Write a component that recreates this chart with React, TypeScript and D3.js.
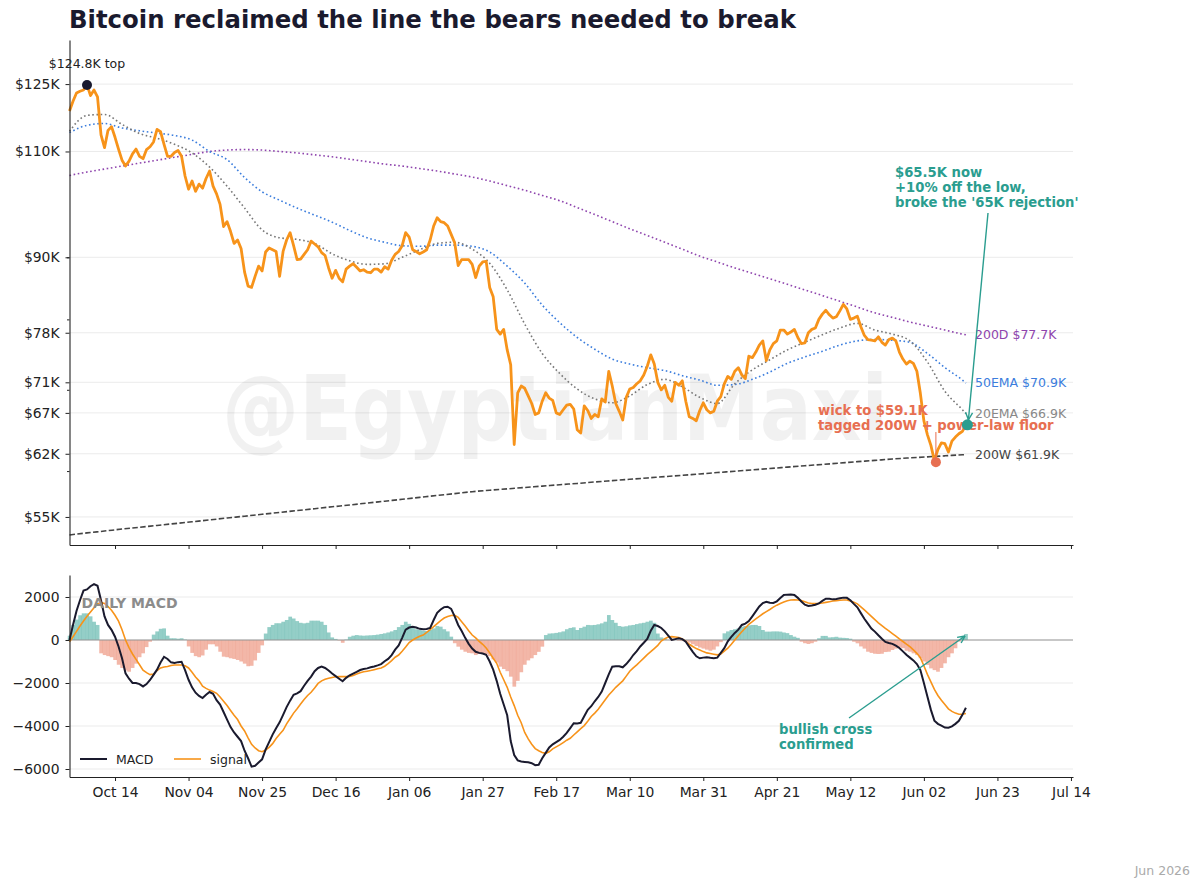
import React, {useEffect, useRef} from "react";
import * as d3 from "d3";

// daily closes from Oct 1 2025 ($K)
const price = [
  118.8, 121.0, 122.9, 123.3, 123.6, 124.8, 122.3, 123.6, 122.0, 113.5,
  110.8, 114.5, 115.3, 113.0, 110.5, 108.2, 107.0, 108.0, 109.5, 110.5,
  109.0, 108.5, 110.4, 111.0, 112.0, 114.7, 114.2, 111.5, 109.0, 109.0,
  109.8, 110.2, 109.0, 105.0, 102.4, 104.0, 102.0, 103.4, 102.6, 104.5,
  106.0, 103.0, 101.5, 99.5, 95.4, 96.3, 94.5, 92.4, 93.0, 91.5,
  87.5, 85.2, 85.0, 86.8, 88.5, 87.7, 90.9, 91.6, 91.3, 91.0,
  86.8, 91.0, 93.0, 94.3, 92.0, 89.6, 89.7, 90.5, 91.3, 92.8,
  92.3, 91.8, 90.8, 90.3, 88.2, 86.5, 87.8, 86.5, 85.9, 88.0,
  88.5, 88.9, 88.3, 87.7, 87.9, 87.5, 87.4, 88.0, 88.0, 87.5,
  88.4, 88.0, 89.5, 90.5, 91.0, 92.0, 94.3, 93.5, 91.3, 91.0,
  90.6, 90.9, 91.3, 93.0, 95.5, 97.0, 96.3, 96.1, 95.5, 94.0,
  92.5, 88.6, 89.6, 89.6, 89.6, 88.8, 86.6, 88.5, 89.2, 89.3,
  85.0, 83.5, 78.5, 77.8, 78.5, 75.5, 73.4, 63.1, 69.6, 70.5,
  70.2, 69.2, 68.2, 66.8, 67.0, 68.5, 69.6, 68.9, 68.6, 67.0,
  66.8, 67.4, 68.0, 68.1, 67.5, 64.9, 64.5, 67.9, 67.3, 66.3,
  66.8, 66.5, 68.8, 68.4, 72.5, 70.5, 68.2, 67.2, 66.1, 69.0,
  70.1, 70.3, 70.8, 71.2, 72.0, 73.2, 74.8, 73.5, 71.0, 70.0,
  70.6, 69.0, 68.5, 71.0, 70.6, 71.2, 68.5, 66.5, 66.3, 66.0,
  67.3, 68.3, 67.4, 67.0, 67.2, 68.5, 69.1, 70.8, 71.8, 71.4,
  72.5, 73.0, 72.0, 71.5, 74.6, 74.4, 75.2, 76.2, 76.8, 74.0,
  75.5, 76.4, 76.8, 78.4, 78.4, 77.8, 78.1, 78.5, 77.3, 76.4,
  76.5, 78.0, 78.5, 78.7, 80.0, 80.8, 81.4, 80.7, 80.2, 80.4,
  81.3, 82.3, 81.6, 80.0, 80.2, 80.5, 78.9, 77.6, 77.0, 76.9,
  76.8, 77.4, 76.6, 76.2, 77.0, 77.2, 76.8, 75.2, 74.2, 73.5,
  73.9, 73.6, 72.5, 69.5, 66.0, 64.3, 63.0, 61.2, 62.5, 63.3,
  63.2, 62.2, 63.5, 64.0, 64.4, 64.7, 65.5,
];

// moving averages, sampled every 5 days ($K)
const maDays = [...d3.range(0, 256, 5), 256];
const ema20 = [
  114.3, 117.8, 118.0, 115.8, 113.8, 112.8, 111.5, 109.7, 106.8, 103.0,
  98.8, 94.8, 93.4, 93.1, 92.4, 90.6, 89.4, 88.8, 88.9, 90.0,
  91.3, 92.4, 92.6, 91.4, 89.0, 84.6, 79.3, 75.0, 72.2, 70.1,
  68.8, 68.3, 69.2, 70.7, 71.4, 70.4, 69.0, 68.2, 70.8, 72.7,
  74.1, 75.5, 76.6, 77.7, 78.7, 79.4, 78.4, 77.8, 76.8, 73.8,
  69.8, 67.4, 66.9,
];
const ema50 = [
  114.0, 115.6, 116.0, 115.0, 114.4, 113.9, 113.4, 112.4, 110.0, 108.3,
  104.7, 101.9, 100.3, 98.8, 97.5, 96.2, 94.7, 93.4, 92.6, 92.0,
  91.9, 92.1, 92.1, 91.9, 90.9, 88.5, 85.7, 82.2, 79.5, 77.3,
  75.6, 74.2, 73.5, 73.0, 72.6, 71.9, 71.3, 70.6, 70.7, 71.4,
  72.4, 73.6, 74.5, 75.3, 76.2, 76.8, 77.0, 76.9, 76.6, 75.0,
  73.0, 71.3, 70.9,
];
const sma200d = [
  105.1, 105.8, 106.4, 107.0, 107.6, 108.2, 108.8, 109.4, 110.0, 110.3,
  110.4, 110.3, 110.0, 109.7, 109.3, 108.9, 108.4, 107.9, 107.4, 107.0,
  106.5, 106.0, 105.4, 104.8, 104.0, 103.1, 102.2, 101.2, 100.2, 98.9,
  97.6, 96.3, 95.0, 93.8, 92.6, 91.4, 90.2, 89.2, 88.2, 87.3,
  86.4, 85.5, 84.6, 83.7, 82.8, 81.9, 81.0, 80.3, 79.6, 79.0,
  78.4, 77.8, 77.7,
];
const sma200w = [
  53.15, 53.36, 53.55, 53.75, 53.93, 54.12, 54.31, 54.5, 54.69, 54.89,
  55.08, 55.28, 55.47, 55.67, 55.87, 56.07, 56.26, 56.47, 56.67, 56.87,
  57.08, 57.29, 57.49, 57.7, 57.86, 58.01, 58.16, 58.31, 58.47, 58.61,
  58.77, 58.92, 59.07, 59.22, 59.37, 59.52, 59.67, 59.83, 59.98, 60.14,
  60.29, 60.45, 60.61, 60.76, 60.92, 61.08, 61.23, 61.39, 61.52, 61.64,
  61.76, 61.88, 61.9,
];

// daily MACD
const macd = [
  0, 700, 1350, 1850, 2300, 2350, 2500, 2600, 2520, 1850,
  1100, 700, 470, 150, -300, -850, -1550, -1800, -2000, -2000,
  -2050, -2160, -2050, -1860, -1620, -1380, -1050, -780, -880, -1040,
  -1070, -1030, -1010, -1400, -1850, -2200, -2450, -2600, -2700, -2550,
  -2420, -2500, -2800, -3000, -3350, -3700, -4050, -4300, -4500, -4700,
  -5150, -5500, -5890, -5850, -5700, -5550, -5100, -4750, -4400, -4100,
  -3830, -3480, -3120, -2820, -2550, -2480, -2380, -2130, -1900, -1700,
  -1450, -1300, -1240, -1300, -1420, -1560, -1680, -1800, -1920, -1760,
  -1640, -1560, -1480, -1395, -1350, -1320, -1270, -1230, -1180, -1120,
  -990, -880, -700, -450, -250, 100, 480, 580, 615, 580,
  520, 500, 510, 560, 930, 1260, 1420, 1530, 1550, 1450,
  1100, 700, 420, 100, -180, -400, -550, -600, -630, -690,
  -1000, -1380, -1900, -2500, -3000, -3500, -4700, -5350, -5600, -5650,
  -5670, -5690, -5730, -5820, -5800, -5500, -5250, -5000, -4850, -4750,
  -4650, -4500, -4320, -4100, -3870, -3880, -3850, -3550, -3250, -3080,
  -2850, -2650, -2400, -2000, -1600, -1240, -1220, -1220, -1270, -1120,
  -930, -700, -520, -300, -130, 50, 430, 700, 650, 560,
  400, 200, 0, 40, 80, 40, -80, -320, -550, -760,
  -850, -820, -800, -830, -850, -820, -600, -380, -60, 150,
  330, 480, 700, 760, 880, 1100, 1330, 1560, 1720, 1780,
  1730, 1720, 1800, 1950, 2090, 2110, 2120, 2090, 1960, 1790,
  1640, 1580, 1600, 1640, 1700, 1820, 1920, 1920, 1890, 1910,
  1940, 1970, 1960, 1850, 1680, 1520, 1250, 990, 760, 530,
  390, 220, 60, -90, -140, -180, -260, -370, -530, -690,
  -820, -950, -1120, -1400, -2000, -2630, -3250, -3750, -3900, -3980,
  -4070, -4080, -4020, -3900, -3760, -3480, -3150,
];
const signal = [
  -80, 150, 400, 650, 880, 1100, 1300, 1500, 1680, 1740,
  1700, 1560, 1380, 1150, 880, 480, 0, -350, -650, -900,
  -1150, -1400, -1520, -1610, -1580, -1420, -1300, -1255, -1230, -1190,
  -1160, -1160, -1160, -1200, -1300, -1500, -1720, -1900, -2150, -2250,
  -2330, -2400, -2480, -2650, -2850, -3050, -3280, -3500, -3700, -4000,
  -4230, -4550, -4850, -5020, -5150, -5195, -5120, -4990, -4820, -4580,
  -4380, -4200, -3900, -3650, -3400, -3200, -2980, -2770, -2580, -2430,
  -2230, -2020, -1900, -1830, -1780, -1740, -1710, -1705, -1705, -1705,
  -1700, -1650, -1580, -1520, -1480, -1450, -1420, -1380, -1340, -1300,
  -1220, -1100, -960, -800, -700, -520, -330, -120, 0, 90,
  170, 230, 350, 480, 620, 760, 900, 1020, 1090, 1140,
  1150, 1050, 850, 650, 430, 230, 100, -60, -200, -370,
  -600, -850, -1085, -1500, -1850, -2200, -2650, -3050, -3500, -3850,
  -4300, -4600, -4850, -5050, -5150, -5230, -5270, -5200, -5060, -4970,
  -4880, -4770, -4660, -4570, -4420, -4270, -4120, -3980, -3780, -3560,
  -3400, -3220, -3000, -2780, -2560, -2380, -2200, -2050, -1900, -1680,
  -1450, -1300, -1160, -1000, -840, -680, -545, -400, -250, -50,
  60, 140, 155, 140, 115, 50, -60, -200, -300, -400,
  -465, -540, -600, -630, -660, -690, -650, -520, -380, -200,
  0, 200, 380, 560, 730, 850, 980, 1100, 1220, 1320,
  1420, 1530, 1620, 1700, 1770, 1830, 1860, 1870, 1860, 1840,
  1780, 1720, 1700, 1700, 1700, 1720, 1750, 1780, 1810, 1830,
  1850, 1860, 1860, 1810, 1760, 1680, 1540, 1400, 1250, 1100,
  950, 800, 670, 540, 420, 300, 180, 50, -70, -190,
  -310, -460, -620, -820, -1200, -1600, -1950, -2300, -2580, -2800,
  -3000, -3200, -3320, -3400, -3450, -3450, -3420,
];
const hist = [
  200, 700, 950, 1150, 1240, 1240, 1100, 850, 700, -620,
  -700, -750, -800, -930, -1150, -1300, -1420, -1475, -1300, -1100,
  -800, -620, -330, -80, 250, 400, 520, 540, 200, 80,
  80, 60, 80, 20, -300, -600, -750, -800, -720, -450,
  -200, -200, -300, -545, -775, -800, -850, -880, -930, -1000,
  -1100, -1220, -1200, -950, -600, -250, 300, 600, 700, 780,
  780, 850, 930, 1085, 1000, 880, 800, 775, 800, 900,
  900, 900, 850, 700, 350, 120, 50, -20, -130, 20,
  150, 200, 230, 210, 200, 210, 220, 230, 250, 280,
  310, 350, 400, 465, 600, 700, 850, 750, 600, 500,
  465, 430, 420, 465, 540, 650, 620, 500, 400, 155,
  -150, -310, -450, -545, -600, -620, -700, -650, -620, -650,
  -750, -900, -1050, -1240, -1350, -1450, -1705, -2170, -1900, -1500,
  -1150, -950, -850, -700, -550, -310, 230, 300, 310, 330,
  360, 400, 500, 560, 590, 465, 560, 620, 700, 690,
  700, 730, 775, 850, 1160, 930, 800, 650, 620, 640,
  680, 700, 740, 775, 800, 850, 900, 800, 300, 120,
  60, 0, -20, 0, -30, -50, -80, -120, -200, -280,
  -350, -400, -450, -500, -450, -300, -100, 310, 400, 465,
  500, 540, 620, 650, 680, 700, 700, 650, 465, 390,
  390, 400, 400, 390, 350, 320, 230, 155, 100, -80,
  -150, -185, -150, -80, 80, 190, 190, 120, 130, 150,
  110, 100, 90, 60, -80, -155, -300, -400, -545, -600,
  -640, -650, -640, -560, -545, -465, -400, -330, -380, -500,
  -545, -620, -700, -850, -1000, -1160, -1320, -1400, -1475, -1300,
  -1085, -800, -620, -385, -80, 150, 280,
];

const priceTicks = [55, 62, 67, 71, 78, 90, 110, 125];
const priceMinor = [60, 70, 80, 90];
const macdTicks = [2000, 0, -2000, -4000, -6000];
const lowDay = 247;

const FONT = "DejaVu Sans, Verdana, sans-serif";
const ORANGE = "#f7931a";
const TEAL = "#2a9d8f";
const CORAL = "#e76f51";
const NAVY = "#1a1a2e";

function createChart(node: SVGSVGElement) {
  const svg = d3.select(node);
  svg.selectAll("*").remove();

  const t0 = new Date(2025, 9, 1);
  const dayOf = (i: number) => d3.timeDay.offset(t0, i);
  const dateTicks = d3.range(14).map((i) => d3.timeDay.offset(new Date(2025, 9, 14), 21 * i));

  const x = d3.scaleTime().domain([t0, new Date(2026, 6, 14, 14)]).range([69.5, 1073]);
  const y = d3.scaleLog().domain([52.15, 135.9]).range([545, 40]);
  const y2 = d3.scaleLinear().domain([-6372, 3023]).range([777, 575]);

  // title + footer
  svg.append("text").attr("x", 69).attr("y", 28).attr("font-family", FONT)
    .attr("font-size", 24.4).attr("font-weight", "bold").attr("fill", NAVY)
    .text("Bitcoin reclaimed the line the bears needed to break");
  svg.append("text").attr("x", 1190).attr("y", 875).attr("text-anchor", "end")
    .attr("font-family", FONT).attr("font-size", 12.5).attr("fill", "#aaa").text("Jun 2026");

  // grids
  const grid = svg.append("g").attr("stroke", "#e6e6e6").attr("stroke-width", 0.8);
  priceTicks.forEach((v) => grid.append("line").attr("x1", 69.5).attr("x2", 1073).attr("y1", y(v)).attr("y2", y(v)));
  macdTicks.forEach((v) => grid.append("line").attr("x1", 69.5).attr("x2", 1073).attr("y1", y2(v)).attr("y2", y2(v)));

  // watermark
  svg.append("text").attr("x", 222).attr("y", 440).attr("font-family", FONT)
    .attr("font-size", 90).attr("font-weight", "bold").attr("fill", "#000").attr("fill-opacity", 0.055)
    .attr("textLength", 666).attr("lengthAdjust", "spacingAndGlyphs").text("@EgyptianMaxi");

  // moving averages
  const maLine = (vals: number[]) =>
    d3.line<number>().curve(d3.curveMonotoneX).x((d, i) => x(dayOf(maDays[i]))).y((d) => y(d))(vals);
  const mas = [
    {vals: sma200w, color: "#444", dash: "5.5,2.4", label: "200W $61.9K", lc: "#444"},
    {vals: sma200d, color: "#8e44ad", dash: "1.6,2.6", label: "200D $77.7K", lc: "#8e44ad"},
    {vals: ema50, color: "#3b7ddd", dash: "1.6,2.6", label: "50EMA $70.9K", lc: "#3b7ddd"},
    {vals: ema20, color: "#777", dash: "1.6,2.6", label: "20EMA $66.9K", lc: "#888"},
  ];
  mas.forEach((m) => {
    svg.append("path").attr("d", maLine(m.vals)).attr("fill", "none")
      .attr("stroke", m.color).attr("stroke-width", 1.6).attr("stroke-dasharray", m.dash);
    svg.append("text").attr("x", 975).attr("y", y(m.vals[m.vals.length - 1])).attr("dy", "0.35em")
      .attr("font-family", FONT).attr("font-size", 12.5).attr("fill", m.lc).text(m.label);
  });

  // price
  const line = d3.line<number>().x((d, i) => x(dayOf(i))).y((d) => y(d));
  svg.append("path").attr("d", line(price)).attr("fill", "none").attr("stroke", ORANGE)
    .attr("stroke-width", 2.8).attr("stroke-linejoin", "round");

  // top marker
  const topI = d3.maxIndex(price);
  svg.append("circle").attr("cx", x(dayOf(topI))).attr("cy", y(price[topI])).attr("r", 5).attr("fill", NAVY);
  svg.append("text").attr("x", x(dayOf(topI))).attr("y", y(price[topI]) - 17).attr("text-anchor", "middle")
    .attr("font-family", FONT).attr("font-size", 12.5).attr("fill", "#222").text(`$${price[topI]}K top`);

  // wick annotation
  const lx = x(dayOf(lowDay)) + 1.5, ly = y(price[lowDay]) + 1.5;
  svg.append("line").attr("x1", lx).attr("x2", lx).attr("y1", 432).attr("y2", ly - 4)
    .attr("stroke", CORAL).attr("stroke-width", 1);
  svg.append("circle").attr("cx", lx).attr("cy", ly).attr("r", 5).attr("fill", CORAL);
  const red = svg.append("text").attr("font-family", FONT).attr("font-size", 13.2)
    .attr("font-weight", "bold").attr("fill", CORAL);
  ["wick to $59.1K", "tagged 200W + power-law floor"].forEach((s, i) =>
    red.append("tspan").attr("x", 818).attr("y", 415 + i * 15).text(s));

  const arrow = (x1: number, y1: number, x2: number, y2v: number, color: string) => {
    svg.append("line").attr("x1", x1).attr("y1", y1).attr("x2", x2).attr("y2", y2v)
      .attr("stroke", color).attr("stroke-width", 1.4);
    const a = Math.atan2(y2v - y1, x2 - x1);
    const h = 8;
    [0.45, -0.45].forEach((o) =>
      svg.append("line").attr("x1", x2).attr("y1", y2v)
        .attr("x2", x2 - h * Math.cos(a + o)).attr("y2", y2v - h * Math.sin(a + o))
        .attr("stroke", color).attr("stroke-width", 1.4));
  };

  // now annotation
  const nI = price.length - 1;
  const nx = x(dayOf(nI)) + 1.5, ny = y(price[nI]);
  arrow(988, 213, nx + 1, ny - 5, TEAL);
  svg.append("circle").attr("cx", nx).attr("cy", ny).attr("r", 5.5).attr("fill", TEAL);
  const green = svg.append("text").attr("font-family", FONT).attr("font-size", 13.2)
    .attr("font-weight", "bold").attr("fill", TEAL);
  ["$65.5K now", "+10% off the low,", "broke the '65K rejection'"].forEach((s, i) =>
    green.append("tspan").attr("x", 895).attr("y", 177 + i * 15).text(s));

  // upper axes
  svg.append("g").attr("transform", "translate(69.5,0)")
    .call(d3.axisLeft(y).tickValues(priceTicks).tickFormat((d) => `$${d}K`).tickSize(4).tickPadding(6).tickSizeOuter(0));
  svg.append("g").attr("transform", "translate(69.5,0)")
    .call(d3.axisLeft(y).tickValues(priceMinor).tickFormat(() => "").tickSize(2.5).tickSizeOuter(0))
    .select(".domain").remove();
  svg.append("g").attr("transform", "translate(0,545)")
    .call(d3.axisBottom(x).tickValues(dateTicks).tickFormat(() => "").tickSize(4).tickSizeOuter(0));

  // MACD panel
  const bw = x(dayOf(1)) - x(dayOf(0));
  svg.append("g").selectAll("rect").data(hist).join("rect")
    .attr("x", (d, i) => x(dayOf(i)) - bw / 2).attr("width", bw + 0.2)
    .attr("y", (d) => Math.min(y2(d), y2(0))).attr("height", (d) => Math.abs(y2(d) - y2(0)))
    .attr("fill", (d) => (d >= 0 ? TEAL : CORAL)).attr("fill-opacity", 0.5);
  svg.append("line").attr("x1", 69.5).attr("x2", 1073).attr("y1", y2(0)).attr("y2", y2(0))
    .attr("stroke", "#999").attr("stroke-width", 1.2);
  const line2 = d3.line<number>().x((d, i) => x(dayOf(i))).y((d) => y2(d));
  svg.append("path").attr("d", line2(signal)).attr("fill", "none").attr("stroke", ORANGE).attr("stroke-width", 1.6);
  svg.append("path").attr("d", line2(macd)).attr("fill", "none").attr("stroke", NAVY).attr("stroke-width", 2);

  svg.append("text").attr("x", 81.5).attr("y", 607.5).attr("font-family", FONT).attr("font-size", 14)
    .attr("font-weight", "bold").attr("fill", "#8c8c8c").text("DAILY MACD");

  // legend
  [{c: NAVY, t: "MACD", x0: 80}, {c: ORANGE, t: "signal", x0: 174}].forEach((l) => {
    svg.append("line").attr("x1", l.x0).attr("x2", l.x0 + 27).attr("y1", 759).attr("y2", 759)
      .attr("stroke", l.c).attr("stroke-width", l.c === NAVY ? 2 : 1.6);
    svg.append("text").attr("x", l.x0 + 36).attr("y", 763.5).attr("font-family", FONT)
      .attr("font-size", 12.5).attr("fill", "#222").text(l.t);
  });

  // bullish cross
  arrow(849, 718, 965, 636, TEAL);
  const bc = svg.append("text").attr("font-family", FONT).attr("font-size", 13.2)
    .attr("font-weight", "bold").attr("fill", TEAL);
  ["bullish cross", "confirmed"].forEach((s, i) =>
    bc.append("tspan").attr("x", 779).attr("y", 734 + i * 14.5).text(s));

  svg.append("g").attr("transform", "translate(69.5,0)")
    .call(d3.axisLeft(y2).tickValues(macdTicks).tickFormat((d) => String(d).replace("-", "\u2212"))
      .tickSize(4).tickPadding(6).tickSizeOuter(0));
  svg.append("g").attr("transform", "translate(0,777)")
    .call(d3.axisBottom(x).tickValues(dateTicks).tickFormat((d) => d3.timeFormat("%b %d")(d as Date))
      .tickSize(4).tickPadding(6).tickSizeOuter(0));

  svg.selectAll(".tick text").attr("font-family", FONT).attr("font-size", 13.9).attr("fill", "#222");
  svg.selectAll(".domain").attr("stroke", "#222").attr("stroke-width", 1.1);
  svg.selectAll(".tick line").attr("stroke", "#222");
}

export default function App() {
  const ref = useRef<SVGSVGElement>(null);
  useEffect(() => {
    if (ref.current) createChart(ref.current);
  }, []);
  return (
    <svg ref={ref} width={1200} height={885}
      style={{position: "absolute", left: 0, top: 0, background: "#fff"}} />
  );
}
